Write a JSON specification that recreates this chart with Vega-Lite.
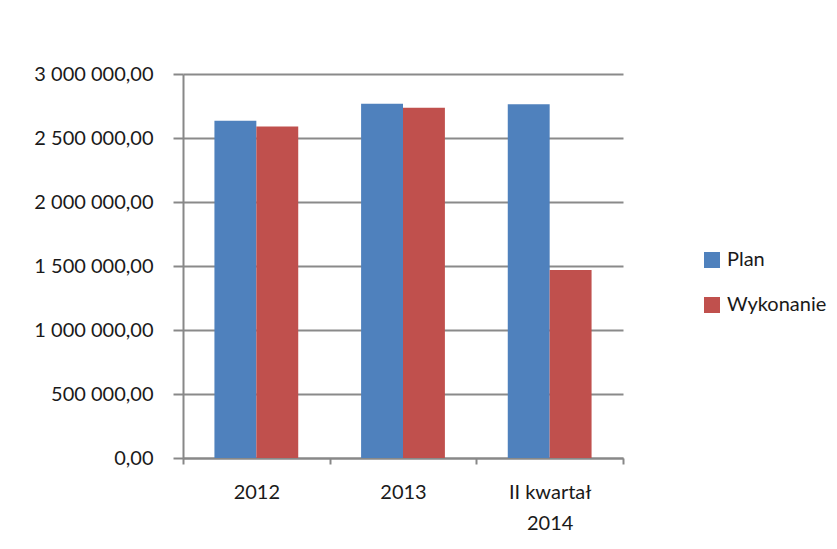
{
  "$schema": "https://vega.github.io/schema/vega-lite/v6.json",
  "autosize": {"type": "none"},
  "padding": {"left": 183, "top": 74, "right": 214, "bottom": 91},
  "width": 440,
  "height": 384,
  "background": "white",
  "config": {
    "font": "Lato",
    "view": {"stroke": null},
    "locale": {"number": {"decimal": ",", "thousands": " ", "grouping": [3], "currency": ["", " zł"]}}
  },
  "data": {
    "values": [
      {"okres": "2012", "seria": "Plan", "wartosc": 2635000},
      {"okres": "2012", "seria": "Wykonanie", "wartosc": 2590000},
      {"okres": "2013", "seria": "Plan", "wartosc": 2768000},
      {"okres": "2013", "seria": "Wykonanie", "wartosc": 2737000},
      {"okres": "II kwartał|2014", "seria": "Plan", "wartosc": 2763000},
      {"okres": "II kwartał|2014", "seria": "Wykonanie", "wartosc": 1469000}
    ]
  },
  "mark": {"type": "bar"},
  "encoding": {
    "x": {
      "field": "okres",
      "type": "nominal",
      "sort": null,
      "scale": {"paddingInner": 0, "paddingOuter": 0},
      "axis": {
        "title": null,
        "labelAngle": 0,
        "labelExpr": "split(datum.label, '|')",
        "labelFontSize": 20,
        "labelColor": "#1a1a1a",
        "labelLineHeight": 31,
        "labelPadding": 18,
        "tickBand": "extent",
        "tickSize": 6,
        "tickColor": "#888888",
        "tickWidth": 2,
        "domainColor": "#888888",
        "domainWidth": 2
      }
    },
    "xOffset": {"field": "seria", "type": "nominal", "scale": {"paddingInner": 0, "paddingOuter": 0.75}},
    "y": {
      "field": "wartosc",
      "type": "quantitative",
      "scale": {"domain": [0, 3000000], "nice": false},
      "axis": {
        "title": null,
        "values": [0, 500000, 1000000, 1500000, 2000000, 2500000, 3000000],
        "format": ",.2f",
        "labelFontSize": 20,
        "labelColor": "#1a1a1a",
        "labelPadding": 20,
        "tickSize": 10,
        "tickColor": "#888888",
        "tickWidth": 2,
        "domainColor": "#888888",
        "domainWidth": 2,
        "grid": true,
        "gridColor": "#8a8a8a",
        "gridWidth": 2
      }
    },
    "color": {
      "field": "seria",
      "type": "nominal",
      "scale": {"domain": ["Plan", "Wykonanie"], "range": ["#4F81BD", "#C0504D"]},
      "legend": {
        "title": null,
        "orient": "none",
        "legendX": 519,
        "legendY": 176,
        "symbolType": "square",
        "symbolSize": 256,
        "symbolStrokeWidth": 0,
        "labelFontSize": 20,
        "labelColor": "#1a1a1a",
        "labelOffset": 5,
        "rowPadding": 25,
        "padding": 0
      }
    }
  }
}
